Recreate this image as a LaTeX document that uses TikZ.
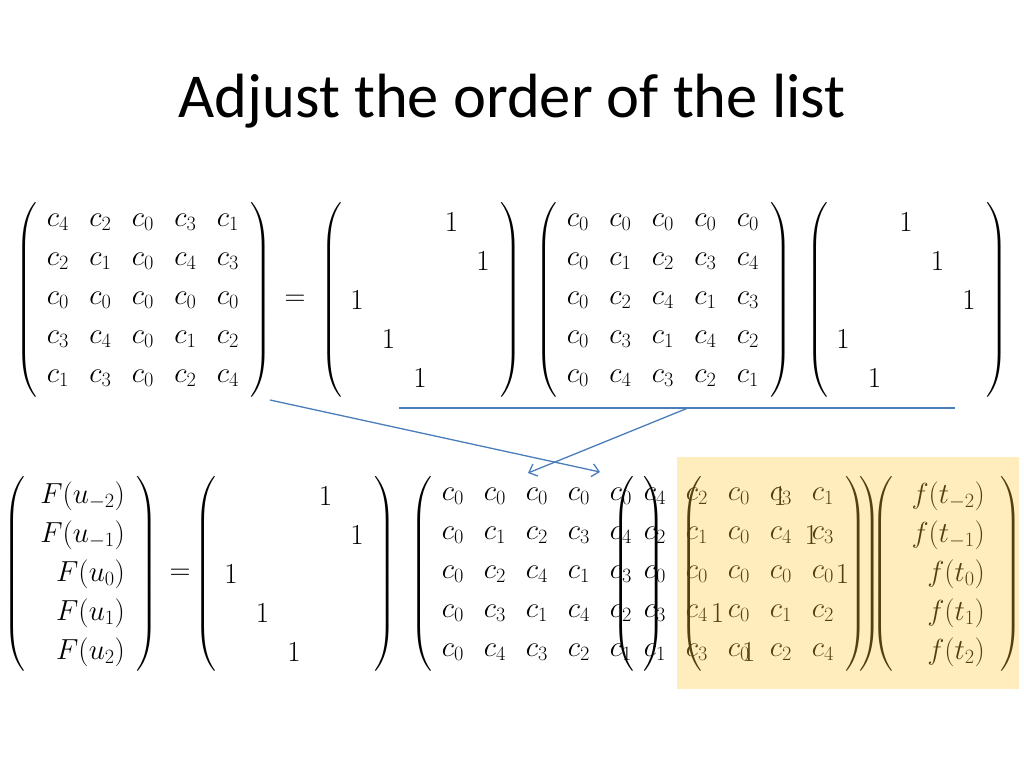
\RequirePackage{fix-cm}
\documentclass[tikz,border=0pt]{standalone}
\usepackage{amsmath}
\usepackage{fontspec}
\newfontfamily\titlefont{Carlito}
\usetikzlibrary{matrix,arrows.meta,positioning}
\definecolor{linkblue}{RGB}{74,126,187}
\definecolor{gold}{RGB}{255,200,50}
\tikzstyle{cmat} = [matrix of math nodes, inner sep=0pt, left delimiter=(, right delimiter=),
  nodes={inner sep=0pt, minimum width=42.5pt, minimum height=39pt, anchor=center}]
\tikzstyle{pmat} = [cmat, nodes={minimum width=31.5pt}]
\tikzstyle{vmat} = [matrix of math nodes, inner sep=0pt, left delimiter=(, right delimiter=),
  nodes={inner sep=0pt, align=right, minimum height=39pt, anchor=center}]
\tikzstyle{link} = [draw=linkblue, line width=1.3pt]
\tikzset{>={Straight Barb[length=7pt,width=13pt]}}
\tikzset{every delimiter/.style={font=\fontsize{34}{41}\selectfont},
  every left delimiter/.style={xshift=2pt}}

\begin{document}
\begin{tikzpicture}[x=1pt,y=-1pt,font=\fontsize{29}{35}\selectfont]
  \useasboundingbox (0,0) rectangle (1024,768);
  \node [font=\titlefont\fontsize{62.5}{75}\selectfont,anchor=base] (title) at (512,117) {Adjust the order of the list};

  % top row
  \matrix (A) [cmat] at (143,300) {
    c_4 & c_2 & c_0 & c_3 & c_1 \\
    c_2 & c_1 & c_0 & c_4 & c_3 \\
    c_0 & c_0 & c_0 & c_0 & c_0 \\
    c_3 & c_4 & c_0 & c_1 & c_2 \\
    c_1 & c_3 & c_0 & c_2 & c_4 \\
  };
  \node (eq1) at (295,300) {$=$};
  \matrix (P1) [pmat] at (420,300) {
      &   &   & 1 &   \\
      &   &   &   & 1 \\
    1 &   &   &   &   \\
      & 1 &   &   &   \\
      &   & 1 &   &   \\
  };
  \matrix (C) [cmat] at (663,300) {
    c_0 & c_0 & c_0 & c_0 & c_0 \\
    c_0 & c_1 & c_2 & c_3 & c_4 \\
    c_0 & c_2 & c_4 & c_1 & c_3 \\
    c_0 & c_3 & c_1 & c_4 & c_2 \\
    c_0 & c_4 & c_3 & c_2 & c_1 \\
  };
  \matrix (P2) [pmat] at (906,300) {
      &   & 1 &   &   \\
      &   &   & 1 &   \\
      &   &   &   & 1 \\
    1 &   &   &   &   \\
      & 1 &   &   &   \\
  };

  % links
  \coordinate (a1) at (270,400);
  \coordinate (a2) at (600,472);
  \coordinate (h1) at (399,408);
  \coordinate (h2) at (955,408);
  \coordinate (b1) at (688,408);
  \coordinate (b2) at (528,473);
  \draw [link,->] (a1) -- (a2);
  \draw [link] (h1) -- (h2);
  \draw [link,->] (b1) -- (b2);

  % bottom row
  \begin{scope}[every right delimiter/.style={xshift=10pt}]
    \matrix (Fu) [vmat,nodes={text width=100pt}] at (75,574) {
      F(u_{-2}) \\
      F(u_{-1}) \\
      F(u_0) \\
      F(u_1) \\
      F(u_2) \\
    };
  \end{scope}
  \node (eq2) at (180,574) {$=$};
  \matrix (P3) [pmat] at (294,574) {
      &   &   & 1 &   \\
      &   &   &   & 1 \\
    1 &   &   &   &   \\
      & 1 &   &   &   \\
      &   & 1 &   &   \\
  };
  \matrix (C2) [cmat,nodes={minimum width=42pt}] at (537,574) {
    c_0 & c_0 & c_0 & c_0 & c_0 \\
    c_0 & c_1 & c_2 & c_3 & c_4 \\
    c_0 & c_2 & c_4 & c_1 & c_3 \\
    c_0 & c_3 & c_1 & c_4 & c_2 \\
    c_0 & c_4 & c_3 & c_2 & c_1 \\
  };
  \matrix (A2) [cmat,nodes={minimum width=42pt}] at (739,574) {
    c_4 & c_2 & c_0 & c_3 & c_1 \\
    c_2 & c_1 & c_0 & c_4 & c_3 \\
    c_0 & c_0 & c_0 & c_0 & c_0 \\
    c_3 & c_4 & c_0 & c_1 & c_2 \\
    c_1 & c_3 & c_0 & c_2 & c_4 \\
  };
  \matrix (P4) [pmat,nodes={minimum width=31.25pt}] at (780,574) {
      &   & 1 &   &   \\
      &   &   & 1 &   \\
      &   &   &   & 1 \\
    1 &   &   &   &   \\
      & 1 &   &   &   \\
  };
  \begin{scope}[every right delimiter/.style={xshift=14pt}]
    \matrix (ft) [vmat,nodes={text width=92pt}] at (939,574) {
      f(t_{-2}) \\
      f(t_{-1}) \\
      f(t_0) \\
      f(t_1) \\
      f(t_2) \\
    };
  \end{scope}

  % highlight
  \fill [gold,opacity=0.32] (677,457) rectangle (1019,689);
\end{tikzpicture}
\end{document}
